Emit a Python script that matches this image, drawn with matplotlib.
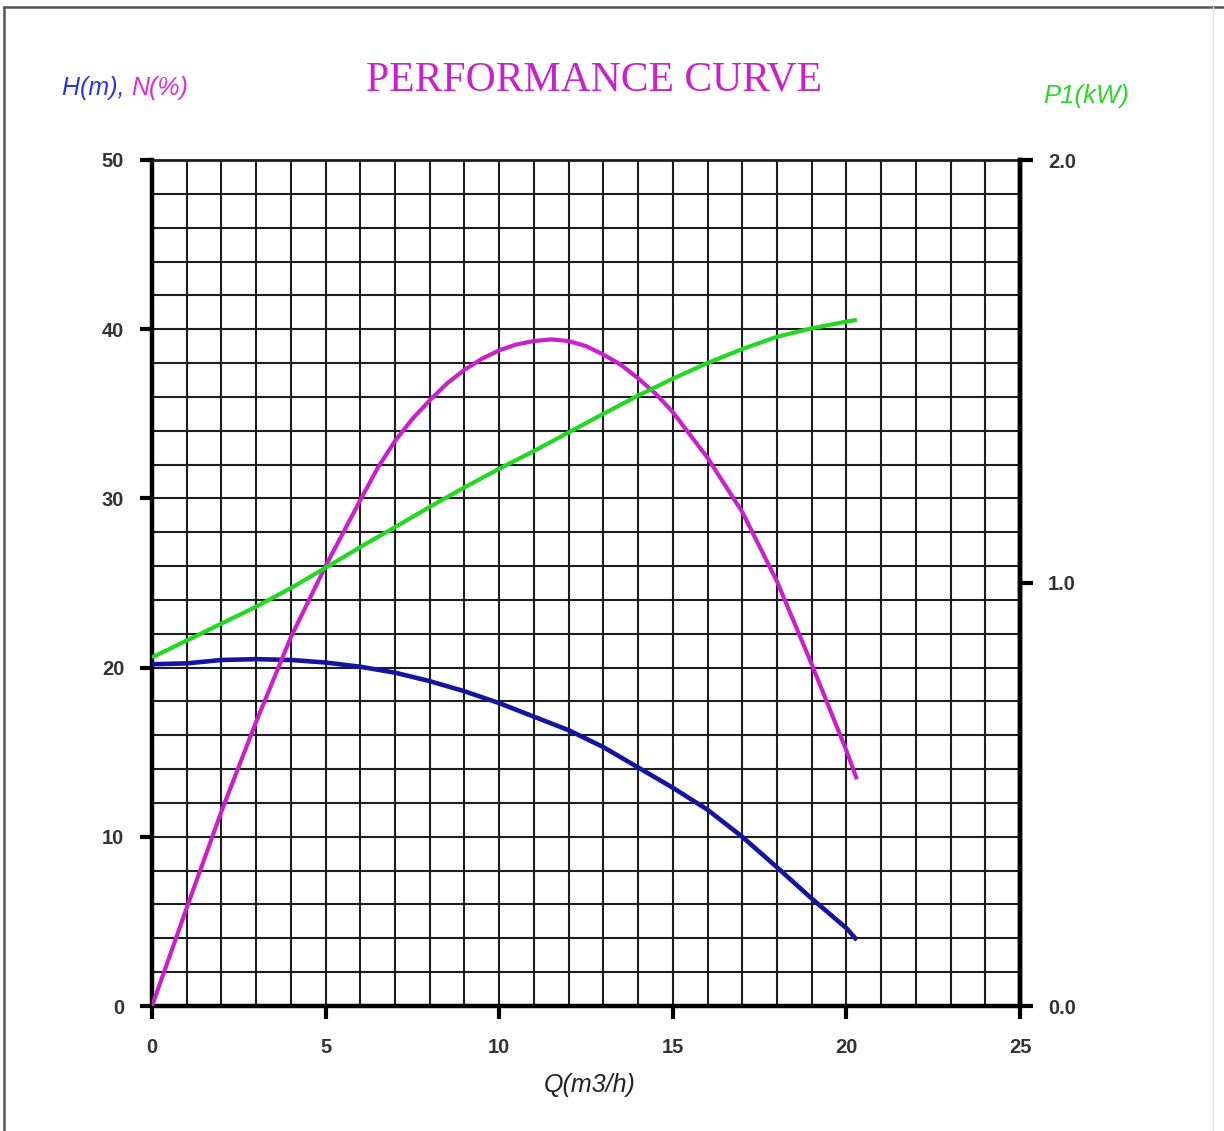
import matplotlib
matplotlib.use("Agg")
import matplotlib.pyplot as plt
from matplotlib.ticker import MultipleLocator
from matplotlib.lines import Line2D

# ---- data ----
q_h = [0, 1, 2, 3, 4, 5, 6, 7, 8, 9, 10, 11, 12, 13, 14, 15, 16, 17, 18, 19, 20, 20.3]
head = [20.2, 20.25, 20.45, 20.5, 20.45, 20.3, 20.05, 19.7, 19.2, 18.6, 17.9, 17.1,
        16.3, 15.3, 14.1, 12.9, 11.6, 10.0, 8.2, 6.35, 4.6, 3.9]

q_n = [0, 1, 2, 3, 4, 5, 6, 6.5, 7, 7.5, 8, 8.5, 9, 9.5, 10, 10.5, 11, 11.5, 12,
       12.5, 13, 13.5, 14, 14.5, 15, 16, 17, 18, 19, 20, 20.3]
eff = [0, 5.8, 11.5, 16.8, 21.8, 26.0, 29.9, 31.8, 33.4, 34.7, 35.8, 36.8, 37.6,
       38.25, 38.75, 39.1, 39.3, 39.4, 39.3, 39.0, 38.5, 37.9, 37.1, 36.2, 35.1,
       32.4, 29.2, 25.1, 20.2, 15.1, 13.4]

q_p = [0, 1, 2, 3, 4, 5, 6, 7, 8, 9, 10, 11, 12, 13, 14, 15, 16, 17, 18, 19, 20, 20.3]
power = [0.824, 0.864, 0.904, 0.944, 0.988, 1.036, 1.085, 1.132, 1.18, 1.226, 1.27,
         1.312, 1.356, 1.40, 1.443, 1.483, 1.52, 1.553, 1.582, 1.602, 1.618, 1.622]

x_ticks = [0, 5, 10, 15, 20, 25]
y_ticks = [0, 10, 20, 30, 40, 50]
y2_ticks = [0.0, 1.0, 2.0]
y2_labels = ["0.0", "1.0", "2.0"]

title = "PERFORMANCE CURVE"
xlabel = "Q(m3/h)"

# ---- styling ----
c_head = "#1414a0"
c_eff = "#cc1fcc"
c_pow = "#22d822"
grid_c = "#1e1e1e"
tick_c = "#333333"

plt.rcParams['font.family'] = ['Liberation Sans', 'DejaVu Sans']

fig = plt.figure(figsize=(12.24, 11.31), dpi=100)
ax = fig.add_axes([152/1224, 1 - 1006/1131, (1020-152)/1224, (1006-160)/1131])

ax.set_xlim(0, 25)
ax.set_ylim(0, 50)
ax.xaxis.set_minor_locator(MultipleLocator(1))
ax.yaxis.set_minor_locator(MultipleLocator(2))
ax.set_xticks(x_ticks)
ax.set_yticks(y_ticks)
ax.grid(which='both', color=grid_c, lw=1.5, zorder=1)
ax.set_axisbelow(True)
ax.tick_params(which='minor', length=0)
ax.tick_params(axis='y', which='major', direction='out', length=9, width=3,
               pad=11, labelsize=14.5, labelcolor=tick_c, color='black')
ax.tick_params(axis='x', which='major', direction='out', length=9, width=3,
               pad=14, labelsize=14.5, labelcolor=tick_c, color='black')
for lab in ax.get_xticklabels() + ax.get_yticklabels():
    lab.set_fontweight('bold')
for s in ['left', 'bottom']:
    ax.spines[s].set_linewidth(3.2)
    ax.spines[s].set_color('black')
ax.spines['top'].set_linewidth(2.0)
ax.spines['top'].set_color(grid_c)
ax.spines['right'].set_linewidth(3.2)

ax.plot(q_h, head, color=c_head, lw=3.3, zorder=3, solid_capstyle='butt')
ax.plot(q_n, eff, color=c_eff, lw=3.0, zorder=3, solid_capstyle='butt')

ax2 = ax.twinx()
ax2.set_ylim(0, 2)
ax2.set_yticks(y2_ticks)
ax2.set_yticklabels(y2_labels, fontweight='bold')
ax2.tick_params(axis='y', direction='out', length=9, width=3, pad=11,
                labelsize=14.5, labelcolor=tick_c, color='black')
ax2.spines['right'].set_linewidth(3.2)
ax2.spines['right'].set_color('black')
for s in ['left', 'bottom', 'top']:
    ax2.spines[s].set_visible(False)
ax2.plot(q_p, power, color=c_pow, lw=3.0, zorder=3, solid_capstyle='butt')

# texts
fig.text(594/1224, 1 - 80/1131, title, family=['Liberation Serif', 'DejaVu Serif'],
         fontsize=30, color=c_eff, ha='center', va='center')
fig.text(590/1224, 1 - 1085/1131, xlabel, fontsize=18, style='italic',
         color='#222222', ha='center', va='center')
t1 = fig.text(62/1224, 1 - 88/1131, "H(m), ", fontsize=18, style='italic',
              color='#2a36d6', ha='left', va='center')
fig.canvas.draw()
bb = t1.get_window_extent()
fig.text(bb.x1 / fig.bbox.width, 1 - 88/1131, "N(%)", fontsize=18, style='italic',
         color='#e02ad8', ha='left', va='center')
fig.text(1043/1224, 1 - 96/1131, "P1(kW)", fontsize=18.5, style='italic',
         color='#2ad82a', ha='left', va='center')

# outer frame (top and left edges)
fig.add_artist(Line2D([4/1224, 1.0], [1 - 7/1131, 1 - 7/1131], color='#555555', lw=1.8,
                      transform=fig.transFigure))
fig.add_artist(Line2D([4/1224, 4/1224], [0, 1 - 7/1131], color='#555555', lw=1.8,
                      transform=fig.transFigure))
fig.add_artist(Line2D([1213/1224, 1213/1224], [0, 1 - 7/1131], color='#e6e6e6', lw=1.0,
                      transform=fig.transFigure))

fig.savefig("out.png", dpi=100)
